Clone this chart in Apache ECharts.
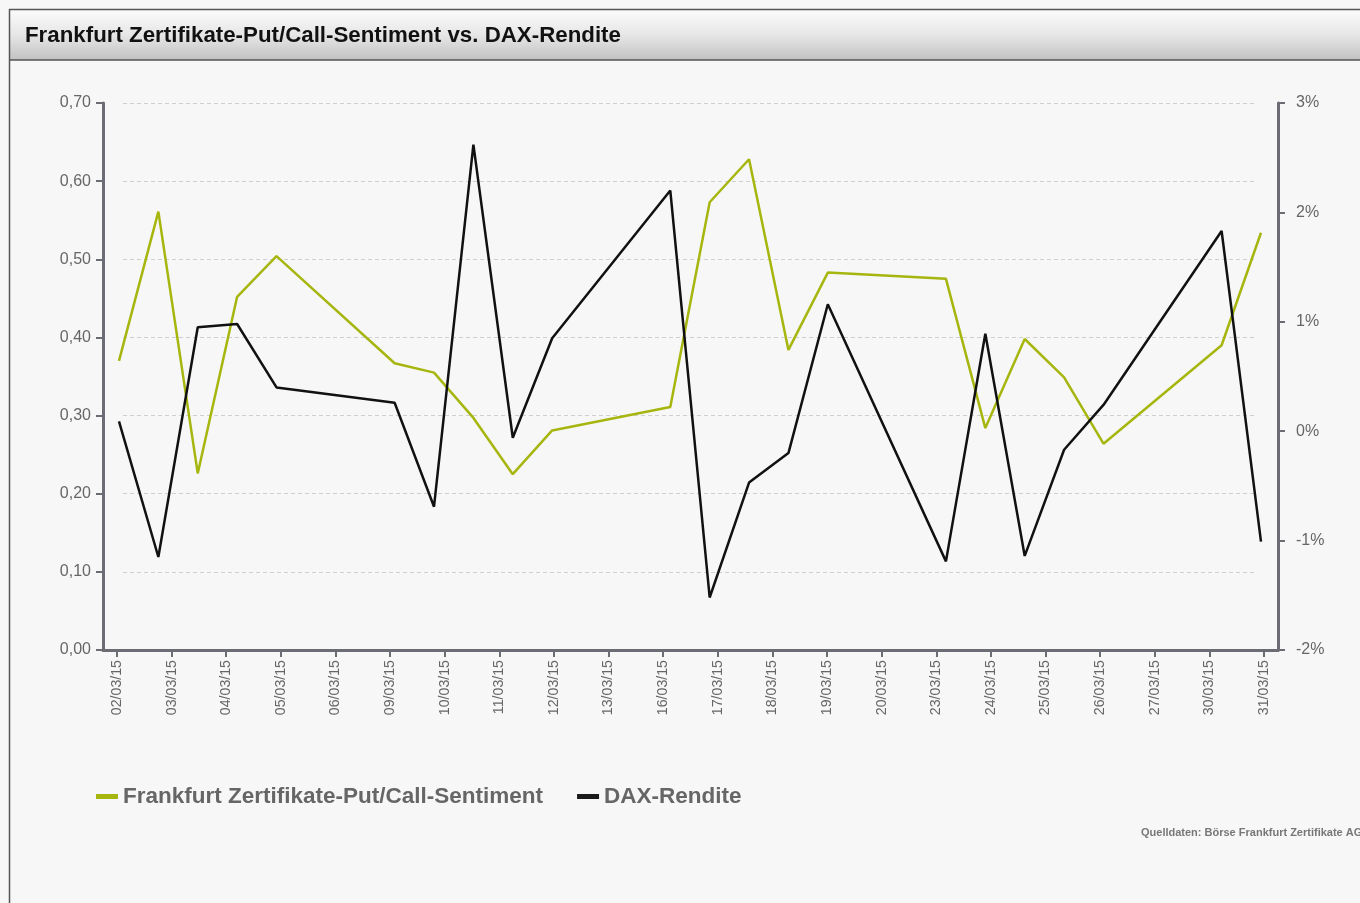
<!DOCTYPE html>
<html>
<head>
<meta charset="utf-8">
<script src="https://cdn.jsdelivr.net/npm/echarts@6/dist/echarts.min.js"></script>
<style>
html,body{margin:0;padding:0;background:#f7f7f7;}
#c{width:1360px;height:903px;}
</style>
</head>
<body>
<div id="c"></div>
<script>
// ---- data ----
var dates = ['2015-03-02','2015-03-03','2015-03-04','2015-03-05','2015-03-06',
             '2015-03-09','2015-03-10','2015-03-11','2015-03-12','2015-03-13',
             '2015-03-16','2015-03-17','2015-03-18','2015-03-19','2015-03-20',
             '2015-03-23','2015-03-24','2015-03-25','2015-03-26','2015-03-27',
             '2015-03-30','2015-03-31'];
var tickLabels = ['02/03/15','03/03/15','04/03/15','05/03/15','06/03/15',
                  '09/03/15','10/03/15','11/03/15','12/03/15','13/03/15',
                  '16/03/15','17/03/15','18/03/15','19/03/15','20/03/15',
                  '23/03/15','24/03/15','25/03/15','26/03/15','27/03/15',
                  '30/03/15','31/03/15'];
var sentiment = [0.370,0.561,0.226,0.452,0.504,
                 0.367,0.355,0.297,0.225,0.281,
                 0.311,0.573,0.628,0.384,0.483,
                 0.475,0.284,0.398,0.349,0.264,
                 0.390,0.534];
var daxReturn = [0.09,-1.15,0.95,0.98,0.40,
                 0.26,-0.69,2.62,-0.06,0.85,
                 2.20,-1.52,-0.47,-0.20,1.16,
                 -1.19,0.89,-1.14,-0.17,0.24,
                 1.83,-1.01];
var seriesNames = ['Frankfurt Zertifikate-Put/Call-Sentiment','DAX-Rendite'];

function ts(s){ return Date.parse(s + 'T00:00:00Z'); }
var DAY = 86400000;
var sentData = dates.map(function(d,i){ return [ts(d), sentiment[i]]; });
var daxData = dates.map(function(d,i){ return [ts(d), daxReturn[i]]; });

var axisGrey = '#6c6c74';
var labelGrey = '#666666';
var font = '"Liberation Sans", Arial, Helvetica, sans-serif';

var chart = echarts.init(document.getElementById('c'), null, {renderer:'canvas'});
chart.setOption({
  backgroundColor: '#f7f7f7',
  animation: false,
  textStyle: {fontFamily: font},
  graphic: [
    {type:'rect', left:10, top:10, shape:{width:1360, height:50}, z:-10,
     style:{fill:{type:'linear', x:0, y:0, x2:0, y2:1,
       colorStops:[{offset:0,color:'#fbfbfb'},{offset:0.5,color:'#e6e6e6'},{offset:1,color:'#c2c2c2'}]}}},
    {type:'line', shape:{x1:9, y1:9.5, x2:1360, y2:9.5}, style:{stroke:'#555', lineWidth:1.5}, z:-5},
    {type:'line', shape:{x1:9, y1:60, x2:1360, y2:60}, style:{stroke:'#555', lineWidth:1.5}, z:-5},
    {type:'line', shape:{x1:9.5, y1:9, x2:9.5, y2:903}, style:{stroke:'#555', lineWidth:1.5}, z:-5},
    {type:'text', left:1141, top:827, z:10,
     style:{text:'Quelldaten: Börse Frankfurt Zertifikate AG', font:'bold 11px ' + font, fill:'#777'}}
  ],
  title: {
    text: 'Frankfurt Zertifikate-Put/Call-Sentiment vs. DAX-Rendite',
    left: 20, top: 20,
    textStyle: {fontSize: 22.3, fontWeight: 'bold', color: '#111', fontFamily: font}
  },
  legend: {
    left: 91, top: 780,
    icon: 'rect', itemWidth: 22, itemHeight: 5, itemGap: 34,
    textStyle: {fontSize: 22.5, fontWeight: 'bold', color: labelGrey, fontFamily: font},
    data: seriesNames
  },
  grid: [
    {left:103, right:82, top:103, bottom:253},
    {left:117, right:96, top:103, bottom:253},
    {left:123, right:103, top:103, bottom:253}
  ],
  xAxis: [
    {type:'time', gridIndex:0,
     min: ts(dates[0]) - 0.406*DAY, max: ts(dates[dates.length-1]) + 0.432*DAY,
     axisLine:{show:true, onZero:false, lineStyle:{color:axisGrey, width:3}},
     axisTick:{show:false}, axisLabel:{show:false}, splitLine:{show:false}},
    {type:'category', gridIndex:1, data: tickLabels, boundaryGap:false,
     axisLine:{show:false},
     axisTick:{show:true, length:7, lineStyle:{color:axisGrey, width:2}},
     axisLabel:{rotate:90, fontSize:14.2, color:labelGrey, margin:10, interval:0, fontFamily:font},
     splitLine:{show:false}},
    {type:'value', gridIndex:2, min:0, max:1, show:false}
  ],
  yAxis: [
    {type:'value', gridIndex:0, min:0, max:0.7, interval:0.1, position:'left',
     axisLine:{show:true, lineStyle:{color:axisGrey, width:3}},
     axisTick:{show:true, length:7, lineStyle:{color:axisGrey, width:2}},
     axisLabel:{fontSize:16, color:labelGrey, margin:12, fontFamily:font,
       formatter:function(v){ return v.toFixed(2).replace('.', ','); }},
     splitLine:{show:false}},
    {type:'value', gridIndex:0, min:-2, max:3, interval:1, position:'right',
     axisLine:{show:true, lineStyle:{color:axisGrey, width:3}},
     axisTick:{show:true, length:7, lineStyle:{color:axisGrey, width:2}},
     axisLabel:{fontSize:16, color:labelGrey, margin:18, fontFamily:font,
       formatter:function(v){ return v + '%'; }},
     splitLine:{show:false}},
    {type:'value', gridIndex:1, min:0, max:1, show:false},
    {type:'value', gridIndex:2, min:0, max:0.7, interval:0.1,
     axisLine:{show:false}, axisTick:{show:false}, axisLabel:{show:false},
     splitLine:{show:true, lineStyle:{color:'#cfcfcf', type:[4,3], width:1}}}
  ],
  series: [
    {name: seriesNames[0], type:'line', xAxisIndex:0, yAxisIndex:0, data: sentData,
     showSymbol:false, symbol:'none', z:3,
     lineStyle:{color:'#a6b60e', width:2.5}, itemStyle:{color:'#a6b60e'}},
    {name: seriesNames[1], type:'line', xAxisIndex:0, yAxisIndex:1, data: daxData,
     showSymbol:false, symbol:'none', z:4,
     lineStyle:{color:'#111111', width:2.5}, itemStyle:{color:'#1a1a1a'}}
  ]
});
</script>
</body>
</html>
